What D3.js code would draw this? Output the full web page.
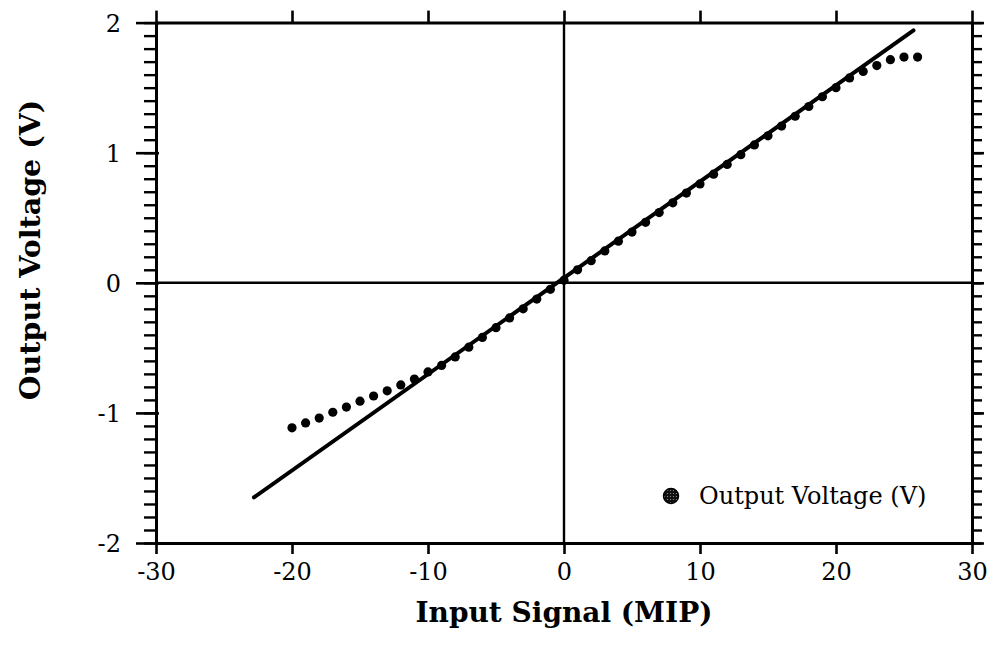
<!DOCTYPE html>
<html>
    <head>
        <title>Output Voltage vs Input Signal</title>
        <meta charset="UTF-8">
        <script type="text/javascript" src="https://cdn.jsdelivr.net/npm/d3@7"></script>
        <style>
            body { margin: 0; background: #fff; }
            svg text { font-family: "DejaVu Serif", "Liberation Serif", serif; fill: #000; }
        </style>
    </head>
    <body>
        <script type="text/javascript">
            var w = 995, h = 649;

            // measured points (input signal in MIP, output in V)
            var inputSignal = [-20, -19, -18, -17, -16, -15, -14, -13, -12, -11, -10, -9,
                -8, -7, -6, -5, -4, -3, -2, -1, 0, 1, 2, 3, 4, 5, 6, 7, 8, 9, 10,
                11, 12, 13, 14, 15, 16, 17, 18, 19, 20, 21, 22, 23, 24, 25, 26];
            var outputVoltage = [-1.115, -1.077, -1.04, -0.995, -0.955, -0.91, -0.87, -0.83, -0.785, -0.74, -0.685, -0.635,
                -0.57, -0.495, -0.42, -0.345, -0.27, -0.2, -0.125, -0.05, 0.02, 0.1, 0.17, 0.245, 0.32, 0.39, 0.465,
                0.54, 0.615, 0.69, 0.76, 0.835, 0.91, 0.985, 1.06, 1.13, 1.205, 1.28, 1.355, 1.43, 1.5,
                1.575, 1.625, 1.67, 1.715, 1.735, 1.735];

            // linear fit line end points
            var fitX = [-22.8, 25.7];
            var fitY = [-1.65, 1.94];

            var xTicks = [-30, -20, -10, 0, 10, 20, 30];
            var yTicks = [-2, -1, 0, 1, 2];
            var yMinor = d3.range(-20, 21).map(function(d) { return d / 10; });

            var pLeft = 156, pRight = 972, pTop = 22.6, pBottom = 543;

            var x = d3.scaleLinear().domain([-30, 30]).range([pLeft, pRight]);
            var y = d3.scaleLinear().domain([-2, 2]).range([pBottom, pTop]);
            var plain = function(d) { return String(d); };

            var svg = d3.select("body").append("svg")
                    .attr("width", w)
                    .attr("height", h);

            // zero lines
            svg.append("line")
                    .attr("x1", pLeft).attr("x2", pRight)
                    .attr("y1", y(0)).attr("y2", y(0))
                    .style("stroke", "#000").style("stroke-width", 2.4);
            svg.append("line")
                    .attr("x1", x(0)).attr("x2", x(0))
                    .attr("y1", pTop).attr("y2", pBottom)
                    .style("stroke", "#000").style("stroke-width", 2.4);

            // fit line
            svg.append("line")
                    .attr("x1", x(fitX[0])).attr("y1", y(fitY[0]))
                    .attr("x2", x(fitX[1])).attr("y2", y(fitY[1]))
                    .style("stroke", "#000").style("stroke-width", 4)
                    .style("stroke-linecap", "round");

            // data dots
            svg.selectAll("circle.pt")
                    .data(inputSignal)
                    .enter()
                    .append("circle")
                    .attr("class", "pt")
                    .attr("cx", function(d) { return x(d); })
                    .attr("cy", function(d, i) { return y(outputVoltage[i]); })
                    .attr("r", 4.6)
                    .style("fill", "#000");

            // axes
            function styleAxis(g) {
                g.select(".domain").style("stroke", "#000").style("stroke-width", 3);
                g.selectAll(".tick line").style("stroke", "#000").style("stroke-width", 2.6);
            }

            var bottomAxis = svg.append("g")
                    .attr("transform", "translate(0," + pBottom + ")")
                    .call(d3.axisBottom(x).tickValues(xTicks).tickSize(11).tickSizeOuter(0).tickPadding(9).tickFormat(plain));
            bottomAxis.selectAll(".tick text").style("font-size", "24px");
            styleAxis(bottomAxis);

            var topAxis = svg.append("g")
                    .attr("transform", "translate(0," + pTop + ")")
                    .call(d3.axisTop(x).tickValues(xTicks).tickSize(12).tickSizeOuter(0).tickFormat(""));
            styleAxis(topAxis);

            var leftMinor = svg.append("g")
                    .attr("transform", "translate(" + pLeft + ",0)")
                    .call(d3.axisLeft(y).tickValues(yMinor).tickSize(12).tickSizeOuter(0).tickFormat(""));
            styleAxis(leftMinor);
            leftMinor.selectAll(".tick line").style("stroke-width", 2.4);

            var leftAxis = svg.append("g")
                    .attr("transform", "translate(" + pLeft + ",0)")
                    .call(d3.axisLeft(y).tickValues(yTicks).tickSize(20).tickSizeOuter(0).tickPadding(15).tickFormat(plain));
            leftAxis.selectAll(".tick line").attr("x2", -20).attr("x1", 3);
            leftAxis.selectAll(".tick text").style("font-size", "24px").attr("dy", "0.36em");
            styleAxis(leftAxis);

            var rightMinor = svg.append("g")
                    .attr("transform", "translate(" + pRight + ",0)")
                    .call(d3.axisRight(y).tickValues(yMinor).tickSize(10).tickSizeOuter(0).tickFormat(""));
            styleAxis(rightMinor);
            rightMinor.selectAll(".tick line").style("stroke-width", 2.4);

            var rightAxis = svg.append("g")
                    .attr("transform", "translate(" + pRight + ",0)")
                    .call(d3.axisRight(y).tickValues(yTicks).tickSize(12).tickSizeOuter(0).tickFormat(""));
            styleAxis(rightAxis);

            // axis titles
            svg.append("text")
                    .attr("x", (pLeft + pRight) / 2)
                    .attr("y", 622)
                    .attr("text-anchor", "middle")
                    .style("font-size", "28px")
                    .style("font-weight", "bold")
                    .text("Input Signal (MIP)");

            svg.append("text")
                    .attr("transform", "translate(40,250) rotate(-90)")
                    .attr("text-anchor", "middle")
                    .style("font-size", "28.5px")
                    .style("font-weight", "bold")
                    .text("Output Voltage (V)");

            // legend
            var defs = svg.append("defs");
            var pat = defs.append("pattern")
                    .attr("id", "speckle")
                    .attr("patternUnits", "userSpaceOnUse")
                    .attr("width", 3).attr("height", 3);
            pat.append("rect").attr("width", 3).attr("height", 3).style("fill", "#111");
            pat.append("circle").attr("cx", 1.5).attr("cy", 1.5).attr("r", 0.6).style("fill", "#999");

            svg.append("circle")
                    .attr("cx", 671).attr("cy", 496)
                    .attr("r", 7.5)
                    .style("fill", "url(#speckle)")
                    .style("stroke", "#000").style("stroke-width", 1.5);
            svg.append("text")
                    .attr("x", 699)
                    .attr("y", 504)
                    .style("font-size", "24px")
                    .text("Output Voltage (V)");
        </script>
    </body>
</html>
